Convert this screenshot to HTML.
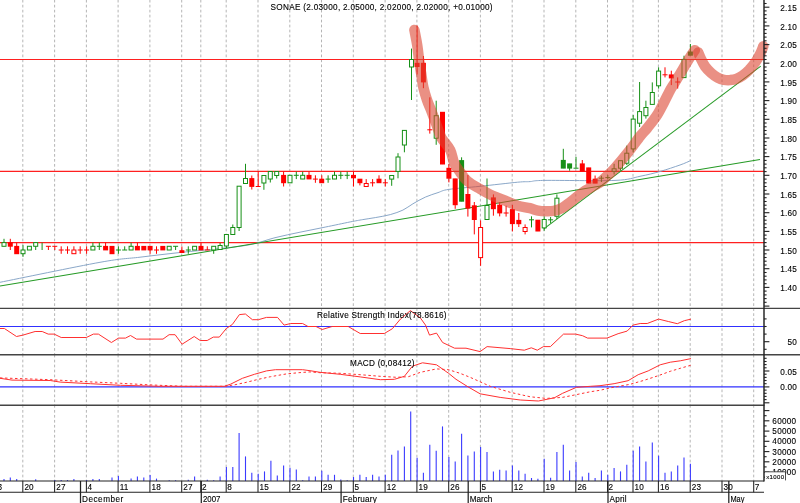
<!DOCTYPE html>
<html><head><meta charset="utf-8"><title>SONAE</title>
<style>html,body{margin:0;padding:0;background:#fff;width:800px;height:503px;overflow:hidden;font-family:"Liberation Sans",sans-serif}</style></head>
<body>
<svg width="800" height="503" viewBox="0 0 800 503" style="display:block;position:absolute;left:0;top:0;filter:blur(0.35px)" font-family="Liberation Sans, sans-serif" font-size="8.2px" fill="#000">
<style>text{stroke:#000;stroke-width:0.12px}</style>
<rect width="800" height="503" fill="#fff"/>
<g stroke="#a8a8a8" stroke-width="0.85" stroke-dasharray="2.7 2.275" fill="none">
<line x1="22.8" y1="-0.2" x2="22.8" y2="308.3"/>
<line x1="22.8" y1="308.3" x2="22.8" y2="354.7"/>
<line x1="22.8" y1="354.7" x2="22.8" y2="405.2"/>
<line x1="22.8" y1="405.0" x2="22.8" y2="481"/>
<line x1="54.6" y1="-0.2" x2="54.6" y2="308.3"/>
<line x1="54.6" y1="308.3" x2="54.6" y2="354.7"/>
<line x1="54.6" y1="354.7" x2="54.6" y2="405.2"/>
<line x1="54.6" y1="405.0" x2="54.6" y2="481"/>
<line x1="86.4" y1="-0.2" x2="86.4" y2="308.3"/>
<line x1="86.4" y1="308.3" x2="86.4" y2="354.7"/>
<line x1="86.4" y1="354.7" x2="86.4" y2="405.2"/>
<line x1="86.4" y1="405.0" x2="86.4" y2="481"/>
<line x1="118.1" y1="-0.2" x2="118.1" y2="308.3"/>
<line x1="118.1" y1="308.3" x2="118.1" y2="354.7"/>
<line x1="118.1" y1="354.7" x2="118.1" y2="405.2"/>
<line x1="118.1" y1="405.0" x2="118.1" y2="481"/>
<line x1="149.9" y1="-0.2" x2="149.9" y2="308.3"/>
<line x1="149.9" y1="308.3" x2="149.9" y2="354.7"/>
<line x1="149.9" y1="354.7" x2="149.9" y2="405.2"/>
<line x1="149.9" y1="405.0" x2="149.9" y2="481"/>
<line x1="181.7" y1="-0.2" x2="181.7" y2="308.3"/>
<line x1="181.7" y1="308.3" x2="181.7" y2="354.7"/>
<line x1="181.7" y1="354.7" x2="181.7" y2="405.2"/>
<line x1="181.7" y1="405.0" x2="181.7" y2="481"/>
<line x1="200.8" y1="-0.2" x2="200.8" y2="308.3"/>
<line x1="200.8" y1="308.3" x2="200.8" y2="354.7"/>
<line x1="200.8" y1="354.7" x2="200.8" y2="405.2"/>
<line x1="200.8" y1="405.0" x2="200.8" y2="481"/>
<line x1="226.2" y1="-0.2" x2="226.2" y2="308.3"/>
<line x1="226.2" y1="308.3" x2="226.2" y2="354.7"/>
<line x1="226.2" y1="354.7" x2="226.2" y2="405.2"/>
<line x1="226.2" y1="405.0" x2="226.2" y2="481"/>
<line x1="258.0" y1="-0.2" x2="258.0" y2="308.3"/>
<line x1="258.0" y1="308.3" x2="258.0" y2="354.7"/>
<line x1="258.0" y1="354.7" x2="258.0" y2="405.2"/>
<line x1="258.0" y1="405.0" x2="258.0" y2="481"/>
<line x1="289.8" y1="-0.2" x2="289.8" y2="308.3"/>
<line x1="289.8" y1="308.3" x2="289.8" y2="354.7"/>
<line x1="289.8" y1="354.7" x2="289.8" y2="405.2"/>
<line x1="289.8" y1="405.0" x2="289.8" y2="481"/>
<line x1="321.5" y1="-0.2" x2="321.5" y2="308.3"/>
<line x1="321.5" y1="308.3" x2="321.5" y2="354.7"/>
<line x1="321.5" y1="354.7" x2="321.5" y2="405.2"/>
<line x1="321.5" y1="405.0" x2="321.5" y2="481"/>
<line x1="353.3" y1="-0.2" x2="353.3" y2="308.3"/>
<line x1="353.3" y1="308.3" x2="353.3" y2="354.7"/>
<line x1="353.3" y1="354.7" x2="353.3" y2="405.2"/>
<line x1="353.3" y1="405.0" x2="353.3" y2="481"/>
<line x1="385.1" y1="-0.2" x2="385.1" y2="308.3"/>
<line x1="385.1" y1="308.3" x2="385.1" y2="354.7"/>
<line x1="385.1" y1="354.7" x2="385.1" y2="405.2"/>
<line x1="385.1" y1="405.0" x2="385.1" y2="481"/>
<line x1="416.9" y1="-0.2" x2="416.9" y2="308.3"/>
<line x1="416.9" y1="308.3" x2="416.9" y2="354.7"/>
<line x1="416.9" y1="354.7" x2="416.9" y2="405.2"/>
<line x1="416.9" y1="405.0" x2="416.9" y2="481"/>
<line x1="448.7" y1="-0.2" x2="448.7" y2="308.3"/>
<line x1="448.7" y1="308.3" x2="448.7" y2="354.7"/>
<line x1="448.7" y1="354.7" x2="448.7" y2="405.2"/>
<line x1="448.7" y1="405.0" x2="448.7" y2="481"/>
<line x1="480.4" y1="-0.2" x2="480.4" y2="308.3"/>
<line x1="480.4" y1="308.3" x2="480.4" y2="354.7"/>
<line x1="480.4" y1="354.7" x2="480.4" y2="405.2"/>
<line x1="480.4" y1="405.0" x2="480.4" y2="481"/>
<line x1="512.2" y1="-0.2" x2="512.2" y2="308.3"/>
<line x1="512.2" y1="308.3" x2="512.2" y2="354.7"/>
<line x1="512.2" y1="354.7" x2="512.2" y2="405.2"/>
<line x1="512.2" y1="405.0" x2="512.2" y2="481"/>
<line x1="544.0" y1="-0.2" x2="544.0" y2="308.3"/>
<line x1="544.0" y1="308.3" x2="544.0" y2="354.7"/>
<line x1="544.0" y1="354.7" x2="544.0" y2="405.2"/>
<line x1="544.0" y1="405.0" x2="544.0" y2="481"/>
<line x1="575.8" y1="-0.2" x2="575.8" y2="308.3"/>
<line x1="575.8" y1="308.3" x2="575.8" y2="354.7"/>
<line x1="575.8" y1="354.7" x2="575.8" y2="405.2"/>
<line x1="575.8" y1="405.0" x2="575.8" y2="481"/>
<line x1="607.5" y1="-0.2" x2="607.5" y2="308.3"/>
<line x1="607.5" y1="308.3" x2="607.5" y2="354.7"/>
<line x1="607.5" y1="354.7" x2="607.5" y2="405.2"/>
<line x1="607.5" y1="405.0" x2="607.5" y2="481"/>
<line x1="633.0" y1="-0.2" x2="633.0" y2="308.3"/>
<line x1="633.0" y1="308.3" x2="633.0" y2="354.7"/>
<line x1="633.0" y1="354.7" x2="633.0" y2="405.2"/>
<line x1="633.0" y1="405.0" x2="633.0" y2="481"/>
<line x1="658.4" y1="-0.2" x2="658.4" y2="308.3"/>
<line x1="658.4" y1="308.3" x2="658.4" y2="354.7"/>
<line x1="658.4" y1="354.7" x2="658.4" y2="405.2"/>
<line x1="658.4" y1="405.0" x2="658.4" y2="481"/>
<line x1="690.2" y1="-0.2" x2="690.2" y2="308.3"/>
<line x1="690.2" y1="308.3" x2="690.2" y2="354.7"/>
<line x1="690.2" y1="354.7" x2="690.2" y2="405.2"/>
<line x1="690.2" y1="405.0" x2="690.2" y2="481"/>
<line x1="722.0" y1="-0.2" x2="722.0" y2="308.3"/>
<line x1="722.0" y1="308.3" x2="722.0" y2="354.7"/>
<line x1="722.0" y1="354.7" x2="722.0" y2="405.2"/>
<line x1="722.0" y1="405.0" x2="722.0" y2="481"/>
<line x1="753.7" y1="-0.2" x2="753.7" y2="308.3"/>
<line x1="753.7" y1="308.3" x2="753.7" y2="354.7"/>
<line x1="753.7" y1="354.7" x2="753.7" y2="405.2"/>
<line x1="753.7" y1="405.0" x2="753.7" y2="481"/>
</g>
<text transform="translate(381.6 10.3) scale(1.0 1)" text-anchor="middle" textLength="222.00" lengthAdjust="spacing">SONAE (2.03000, 2.05000, 2.02000, 2.02000, +0.01000)</text>
<g stroke="#ff2020" stroke-width="1.2">
<line x1="0" y1="59.5" x2="764" y2="59.5"/>
<line x1="0" y1="171.4" x2="764" y2="171.4"/>
<line x1="0" y1="242.7" x2="764" y2="242.7"/>
</g>
<path d="M0.0,282.3C16.7,279.0 76.7,266.5 100.0,262.3C123.3,258.1 126.7,258.8 140.0,257.2C153.3,255.6 166.7,253.9 180.0,252.5C193.3,251.1 208.3,249.8 220.0,248.5C231.7,247.2 240.8,246.5 250.0,244.7C259.2,242.9 266.7,239.8 275.0,237.7C283.3,235.6 291.6,234.0 300.0,232.2C308.4,230.4 316.8,228.8 325.2,227.1C333.6,225.4 343.9,223.2 350.2,221.9C356.5,220.7 358.6,220.3 362.8,219.6C367.0,218.9 370.7,218.4 375.3,217.6C379.9,216.8 385.7,215.8 390.3,214.6C394.9,213.3 399.1,211.9 402.9,210.1C406.7,208.3 409.1,206.0 412.9,203.8C416.6,201.6 421.2,199.0 425.4,197.1C429.6,195.2 434.1,193.9 438.0,192.6C441.9,191.3 441.8,190.4 448.8,189.4C455.8,188.4 468.5,187.5 480.0,186.3C491.5,185.1 509.4,183.0 517.7,182.2C526.0,181.4 525.5,181.9 530.0,181.6C534.5,181.3 530.8,180.6 545.0,180.4C559.2,180.2 599.2,181.1 615.0,180.4C630.8,179.7 632.5,177.8 640.0,176.3C647.5,174.8 653.3,173.4 660.0,171.5C666.7,169.6 674.8,166.8 680.0,165.0C685.2,163.2 689.2,161.2 691.0,160.4" stroke="#84a2c5" stroke-width="0.95" fill="none"/>
<g stroke="#259a25" stroke-width="1.05">
<line x1="0" y1="286.1" x2="760" y2="159.4"/>
<line x1="543.8" y1="228.9" x2="760.8" y2="66.1"/>
</g>
<line x1="4.0" y1="238.8" x2="4.0" y2="246.3" stroke="#168f16" stroke-width="1"/>
<rect x="2.0" y="242.6" width="4" height="3.7" fill="#fff" stroke="#168f16" stroke-width="1"/>
<line x1="10.3" y1="238.8" x2="10.3" y2="250.0" stroke="#ff0000" stroke-width="1"/>
<rect x="7.8" y="242.2" width="5" height="4.5" fill="#ff0000"/>
<line x1="16.7" y1="242.6" x2="16.7" y2="253.8" stroke="#ff0000" stroke-width="1"/>
<rect x="14.2" y="245.9" width="5" height="8.3" fill="#ff0000"/>
<line x1="23.0" y1="245.2" x2="23.0" y2="256.8" stroke="#168f16" stroke-width="1"/>
<rect x="21.0" y="250.0" width="4" height="3.7" fill="#fff" stroke="#168f16" stroke-width="1"/>
<line x1="29.4" y1="246.3" x2="29.4" y2="250.0" stroke="#168f16" stroke-width="1"/>
<rect x="27.4" y="246.3" width="4" height="3.7" fill="#fff" stroke="#168f16" stroke-width="1"/>
<line x1="35.7" y1="242.6" x2="35.7" y2="250.0" stroke="#168f16" stroke-width="1"/>
<rect x="33.7" y="242.6" width="4" height="3.7" fill="#fff" stroke="#168f16" stroke-width="1"/>
<line x1="42.1" y1="242.6" x2="42.1" y2="250.0" stroke="#168f16" stroke-width="1"/>
<line x1="48.4" y1="246.3" x2="48.4" y2="250.0" stroke="#ff0000" stroke-width="1"/>
<line x1="45.9" y1="246.3" x2="50.9" y2="246.3" stroke="#ff0000" stroke-width="1"/>
<line x1="54.8" y1="246.3" x2="54.8" y2="250.0" stroke="#ff0000" stroke-width="1"/>
<line x1="52.3" y1="246.3" x2="57.3" y2="246.3" stroke="#ff0000" stroke-width="1"/>
<line x1="61.2" y1="246.3" x2="61.2" y2="253.8" stroke="#ff0000" stroke-width="1"/>
<line x1="58.7" y1="250.0" x2="63.7" y2="250.0" stroke="#ff0000" stroke-width="1"/>
<line x1="67.5" y1="246.3" x2="67.5" y2="253.8" stroke="#ff0000" stroke-width="1"/>
<line x1="65.0" y1="250.0" x2="70.0" y2="250.0" stroke="#ff0000" stroke-width="1"/>
<line x1="73.9" y1="246.3" x2="73.9" y2="253.8" stroke="#ff0000" stroke-width="1"/>
<rect x="71.9" y="250.0" width="4" height="3.7" fill="#fff" stroke="#ff0000" stroke-width="1"/>
<line x1="80.2" y1="246.3" x2="80.2" y2="253.8" stroke="#ff0000" stroke-width="1"/>
<line x1="77.7" y1="250.0" x2="82.7" y2="250.0" stroke="#ff0000" stroke-width="1"/>
<line x1="86.6" y1="246.3" x2="86.6" y2="253.8" stroke="#ff0000" stroke-width="1"/>
<line x1="84.1" y1="250.0" x2="89.1" y2="250.0" stroke="#ff0000" stroke-width="1"/>
<line x1="92.9" y1="242.6" x2="92.9" y2="250.0" stroke="#168f16" stroke-width="1"/>
<rect x="90.9" y="246.3" width="4" height="3.7" fill="#fff" stroke="#168f16" stroke-width="1"/>
<line x1="99.3" y1="242.6" x2="99.3" y2="250.0" stroke="#168f16" stroke-width="1"/>
<line x1="96.8" y1="246.3" x2="101.8" y2="246.3" stroke="#168f16" stroke-width="1"/>
<line x1="105.6" y1="242.6" x2="105.6" y2="250.0" stroke="#ff0000" stroke-width="1"/>
<rect x="103.1" y="245.9" width="5" height="4.5" fill="#ff0000"/>
<line x1="112.0" y1="246.3" x2="112.0" y2="253.8" stroke="#ff0000" stroke-width="1"/>
<rect x="109.5" y="245.9" width="5" height="8.3" fill="#ff0000"/>
<line x1="118.4" y1="246.3" x2="118.4" y2="253.8" stroke="#168f16" stroke-width="1"/>
<line x1="115.9" y1="250.0" x2="120.9" y2="250.0" stroke="#168f16" stroke-width="1"/>
<line x1="124.7" y1="246.3" x2="124.7" y2="250.0" stroke="#168f16" stroke-width="1"/>
<line x1="122.2" y1="250.0" x2="127.2" y2="250.0" stroke="#168f16" stroke-width="1"/>
<line x1="131.1" y1="242.6" x2="131.1" y2="250.0" stroke="#168f16" stroke-width="1"/>
<rect x="129.1" y="246.3" width="4" height="3.7" fill="#fff" stroke="#168f16" stroke-width="1"/>
<line x1="137.4" y1="242.6" x2="137.4" y2="250.0" stroke="#ff0000" stroke-width="1"/>
<rect x="134.9" y="245.9" width="5" height="4.5" fill="#ff0000"/>
<line x1="143.8" y1="246.3" x2="143.8" y2="250.0" stroke="#ff0000" stroke-width="1"/>
<rect x="141.3" y="245.9" width="5" height="4.5" fill="#ff0000"/>
<line x1="150.1" y1="246.3" x2="150.1" y2="253.8" stroke="#ff0000" stroke-width="1"/>
<rect x="147.6" y="245.9" width="5" height="4.5" fill="#ff0000"/>
<line x1="156.5" y1="246.3" x2="156.5" y2="253.8" stroke="#ff0000" stroke-width="1"/>
<line x1="154.0" y1="250.0" x2="159.0" y2="250.0" stroke="#ff0000" stroke-width="1"/>
<line x1="162.8" y1="246.3" x2="162.8" y2="250.0" stroke="#ff0000" stroke-width="1"/>
<rect x="160.3" y="245.9" width="5" height="4.5" fill="#ff0000"/>
<line x1="169.2" y1="246.3" x2="169.2" y2="250.0" stroke="#168f16" stroke-width="1"/>
<rect x="167.2" y="246.3" width="4" height="3.7" fill="#fff" stroke="#168f16" stroke-width="1"/>
<line x1="175.6" y1="246.3" x2="175.6" y2="250.0" stroke="#168f16" stroke-width="1"/>
<line x1="173.1" y1="246.3" x2="178.1" y2="246.3" stroke="#168f16" stroke-width="1"/>
<line x1="181.9" y1="246.5" x2="181.9" y2="252.6" stroke="#ff0000" stroke-width="1"/>
<rect x="179.4" y="250.2" width="5" height="2.8" fill="#ff0000"/>
<line x1="188.3" y1="246.3" x2="188.3" y2="253.8" stroke="#168f16" stroke-width="1"/>
<line x1="185.8" y1="250.0" x2="190.8" y2="250.0" stroke="#168f16" stroke-width="1"/>
<line x1="194.6" y1="246.3" x2="194.6" y2="250.0" stroke="#168f16" stroke-width="1"/>
<rect x="192.6" y="246.3" width="4" height="3.7" fill="#fff" stroke="#168f16" stroke-width="1"/>
<line x1="201.0" y1="242.6" x2="201.0" y2="250.0" stroke="#ff0000" stroke-width="1"/>
<rect x="198.5" y="245.9" width="5" height="4.5" fill="#ff0000"/>
<line x1="207.3" y1="246.3" x2="207.3" y2="250.0" stroke="#ff0000" stroke-width="1"/>
<line x1="204.8" y1="250.0" x2="209.8" y2="250.0" stroke="#ff0000" stroke-width="1"/>
<line x1="213.7" y1="246.3" x2="213.7" y2="253.8" stroke="#168f16" stroke-width="1"/>
<rect x="211.7" y="246.3" width="4" height="3.7" fill="#fff" stroke="#168f16" stroke-width="1"/>
<line x1="220.1" y1="243.0" x2="220.1" y2="249.5" stroke="#168f16" stroke-width="1"/>
<rect x="218.1" y="245.5" width="4" height="4.0" fill="#fff" stroke="#168f16" stroke-width="1"/>
<line x1="226.4" y1="234.5" x2="226.4" y2="248.0" stroke="#168f16" stroke-width="1"/>
<rect x="224.4" y="234.5" width="4" height="11.5" fill="#fff" stroke="#168f16" stroke-width="1"/>
<line x1="232.8" y1="224.5" x2="232.8" y2="234.5" stroke="#168f16" stroke-width="1"/>
<rect x="230.8" y="227.5" width="4" height="7.0" fill="#fff" stroke="#168f16" stroke-width="1"/>
<line x1="239.1" y1="186.2" x2="239.1" y2="231.0" stroke="#168f16" stroke-width="1"/>
<rect x="237.1" y="186.2" width="4" height="41.3" fill="#fff" stroke="#168f16" stroke-width="1"/>
<line x1="245.5" y1="163.8" x2="245.5" y2="183.5" stroke="#168f16" stroke-width="1"/>
<rect x="243.5" y="178.5" width="4" height="5.0" fill="#fff" stroke="#168f16" stroke-width="1"/>
<line x1="251.8" y1="175.5" x2="251.8" y2="189.5" stroke="#ff0000" stroke-width="1"/>
<rect x="249.3" y="178.1" width="5" height="8.8" fill="#ff0000"/>
<line x1="258.2" y1="171.2" x2="258.2" y2="186.5" stroke="#ff0000" stroke-width="1"/>
<line x1="255.7" y1="186.5" x2="260.7" y2="186.5" stroke="#ff0000" stroke-width="1"/>
<line x1="263.9" y1="175.5" x2="263.9" y2="189.8" stroke="#168f16" stroke-width="1"/>
<rect x="261.9" y="175.5" width="4" height="7.5" fill="#fff" stroke="#168f16" stroke-width="1"/>
<line x1="270.3" y1="171.5" x2="270.3" y2="182.5" stroke="#168f16" stroke-width="1"/>
<rect x="268.3" y="171.5" width="4" height="7.5" fill="#fff" stroke="#168f16" stroke-width="1"/>
<line x1="276.7" y1="171.5" x2="276.7" y2="178.5" stroke="#168f16" stroke-width="1"/>
<rect x="274.7" y="171.5" width="4" height="4.0" fill="#fff" stroke="#168f16" stroke-width="1"/>
<line x1="283.6" y1="171.6" x2="283.6" y2="186.5" stroke="#ff0000" stroke-width="1"/>
<rect x="281.1" y="174.9" width="5" height="8.3" fill="#ff0000"/>
<line x1="290.0" y1="175.3" x2="290.0" y2="182.8" stroke="#168f16" stroke-width="1"/>
<rect x="288.0" y="175.3" width="4" height="7.5" fill="#fff" stroke="#168f16" stroke-width="1"/>
<line x1="296.3" y1="171.6" x2="296.3" y2="179.1" stroke="#168f16" stroke-width="1"/>
<line x1="293.8" y1="175.3" x2="298.8" y2="175.3" stroke="#168f16" stroke-width="1"/>
<line x1="302.7" y1="171.6" x2="302.7" y2="179.1" stroke="#168f16" stroke-width="1"/>
<rect x="300.7" y="175.3" width="4" height="3.7" fill="#fff" stroke="#168f16" stroke-width="1"/>
<line x1="309.0" y1="171.6" x2="309.0" y2="179.1" stroke="#ff0000" stroke-width="1"/>
<rect x="306.5" y="174.9" width="5" height="4.5" fill="#ff0000"/>
<line x1="315.4" y1="175.3" x2="315.4" y2="182.8" stroke="#ff0000" stroke-width="1"/>
<line x1="312.9" y1="179.1" x2="317.9" y2="179.1" stroke="#ff0000" stroke-width="1"/>
<line x1="321.8" y1="175.3" x2="321.8" y2="182.8" stroke="#ff0000" stroke-width="1"/>
<rect x="319.2" y="178.7" width="5" height="4.5" fill="#ff0000"/>
<line x1="328.1" y1="175.3" x2="328.1" y2="182.8" stroke="#168f16" stroke-width="1"/>
<line x1="325.6" y1="179.1" x2="330.6" y2="179.1" stroke="#168f16" stroke-width="1"/>
<line x1="334.5" y1="171.6" x2="334.5" y2="179.1" stroke="#168f16" stroke-width="1"/>
<rect x="332.5" y="175.3" width="4" height="3.7" fill="#fff" stroke="#168f16" stroke-width="1"/>
<line x1="340.8" y1="171.6" x2="340.8" y2="179.1" stroke="#168f16" stroke-width="1"/>
<line x1="338.3" y1="175.3" x2="343.3" y2="175.3" stroke="#168f16" stroke-width="1"/>
<line x1="347.2" y1="171.6" x2="347.2" y2="179.1" stroke="#168f16" stroke-width="1"/>
<line x1="344.7" y1="175.3" x2="349.7" y2="175.3" stroke="#168f16" stroke-width="1"/>
<line x1="353.5" y1="171.6" x2="353.5" y2="186.5" stroke="#ff0000" stroke-width="1"/>
<rect x="351.0" y="174.9" width="5" height="3.4" fill="#ff0000"/>
<line x1="359.9" y1="179.1" x2="359.9" y2="185.4" stroke="#ff0000" stroke-width="1"/>
<rect x="357.4" y="178.7" width="5" height="4.5" fill="#ff0000"/>
<line x1="366.2" y1="179.1" x2="366.2" y2="186.5" stroke="#ff0000" stroke-width="1"/>
<rect x="364.2" y="183.5" width="4" height="3.0" fill="#fff" stroke="#ff0000" stroke-width="1"/>
<line x1="372.6" y1="179.1" x2="372.6" y2="186.5" stroke="#ff0000" stroke-width="1"/>
<line x1="370.1" y1="182.8" x2="375.1" y2="182.8" stroke="#ff0000" stroke-width="1"/>
<line x1="379.0" y1="175.3" x2="379.0" y2="182.8" stroke="#ff0000" stroke-width="1"/>
<rect x="376.5" y="178.7" width="5" height="4.5" fill="#ff0000"/>
<line x1="385.3" y1="179.1" x2="385.3" y2="186.5" stroke="#ff0000" stroke-width="1"/>
<line x1="382.8" y1="182.8" x2="387.8" y2="182.8" stroke="#ff0000" stroke-width="1"/>
<line x1="391.7" y1="175.5" x2="391.7" y2="185.8" stroke="#168f16" stroke-width="1"/>
<rect x="389.7" y="175.5" width="4" height="3.6" fill="#fff" stroke="#168f16" stroke-width="1"/>
<line x1="398.0" y1="153.2" x2="398.0" y2="178.3" stroke="#168f16" stroke-width="1"/>
<rect x="396.0" y="157.0" width="4" height="14.4" fill="#fff" stroke="#168f16" stroke-width="1"/>
<line x1="404.4" y1="130.4" x2="404.4" y2="152.3" stroke="#168f16" stroke-width="1"/>
<rect x="402.4" y="130.4" width="4" height="14.6" fill="#fff" stroke="#168f16" stroke-width="1"/>
<line x1="411.5" y1="48.6" x2="411.5" y2="100.0" stroke="#168f16" stroke-width="1"/>
<rect x="409.5" y="59.5" width="4" height="7.5" fill="#fff" stroke="#168f16" stroke-width="1"/>
<line x1="417.1" y1="25.6" x2="417.1" y2="74.5" stroke="#ff0000" stroke-width="1"/>
<rect x="414.6" y="62.8" width="5" height="4.2" fill="#ff0000"/>
<line x1="423.4" y1="56.0" x2="423.4" y2="88.2" stroke="#ff0000" stroke-width="1"/>
<rect x="420.9" y="62.8" width="5" height="19.6" fill="#ff0000"/>
<line x1="429.8" y1="97.3" x2="429.8" y2="133.6" stroke="#ff0000" stroke-width="1"/>
<line x1="427.3" y1="129.8" x2="432.3" y2="129.8" stroke="#ff0000" stroke-width="1"/>
<line x1="436.2" y1="100.7" x2="436.2" y2="144.8" stroke="#168f16" stroke-width="1"/>
<rect x="434.2" y="115.7" width="4" height="22.5" fill="#fff" stroke="#168f16" stroke-width="1"/>
<line x1="442.5" y1="112.2" x2="442.5" y2="164.1" stroke="#ff0000" stroke-width="1"/>
<rect x="440.0" y="111.8" width="5" height="52.7" fill="#ff0000"/>
<line x1="448.9" y1="164.1" x2="448.9" y2="182.4" stroke="#ff0000" stroke-width="1"/>
<rect x="446.4" y="167.8" width="5" height="10.9" fill="#ff0000"/>
<line x1="455.2" y1="178.8" x2="455.2" y2="208.8" stroke="#ff0000" stroke-width="1"/>
<rect x="452.7" y="178.4" width="5" height="26.8" fill="#ff0000"/>
<line x1="461.6" y1="157.3" x2="461.6" y2="201.3" stroke="#168f16" stroke-width="1"/>
<rect x="459.1" y="160.1" width="5" height="41.6" fill="#168f16"/>
<line x1="467.9" y1="175.0" x2="467.9" y2="216.6" stroke="#ff0000" stroke-width="1"/>
<rect x="465.4" y="194.0" width="5" height="14.6" fill="#ff0000"/>
<line x1="474.3" y1="202.0" x2="474.3" y2="234.4" stroke="#ff0000" stroke-width="1"/>
<rect x="471.8" y="205.3" width="5" height="14.7" fill="#ff0000"/>
<line x1="480.6" y1="220.4" x2="480.6" y2="265.8" stroke="#ff0000" stroke-width="1"/>
<rect x="478.6" y="227.5" width="4" height="30.1" fill="#fff" stroke="#ff0000" stroke-width="1"/>
<line x1="487.0" y1="178.5" x2="487.0" y2="219.5" stroke="#168f16" stroke-width="1"/>
<rect x="485.0" y="205.5" width="4" height="14.0" fill="#fff" stroke="#168f16" stroke-width="1"/>
<line x1="493.4" y1="194.4" x2="493.4" y2="215.7" stroke="#ff0000" stroke-width="1"/>
<rect x="490.9" y="197.4" width="5" height="11.8" fill="#ff0000"/>
<line x1="499.7" y1="202.3" x2="499.7" y2="216.4" stroke="#ff0000" stroke-width="1"/>
<rect x="497.2" y="204.7" width="5" height="8.7" fill="#ff0000"/>
<line x1="506.1" y1="205.7" x2="506.1" y2="216.6" stroke="#ff0000" stroke-width="1"/>
<line x1="503.6" y1="213.0" x2="508.6" y2="213.0" stroke="#ff0000" stroke-width="1"/>
<line x1="512.4" y1="205.0" x2="512.4" y2="231.4" stroke="#ff0000" stroke-width="1"/>
<rect x="509.9" y="209.1" width="5" height="15.0" fill="#ff0000"/>
<line x1="518.8" y1="213.0" x2="518.8" y2="227.0" stroke="#ff0000" stroke-width="1"/>
<rect x="516.3" y="219.9" width="5" height="4.3" fill="#ff0000"/>
<line x1="525.1" y1="224.4" x2="525.1" y2="234.4" stroke="#ff0000" stroke-width="1"/>
<rect x="523.1" y="227.5" width="4" height="4.0" fill="#fff" stroke="#ff0000" stroke-width="1"/>
<line x1="531.5" y1="216.3" x2="531.5" y2="227.4" stroke="#168f16" stroke-width="1"/>
<line x1="529.0" y1="219.8" x2="534.0" y2="219.8" stroke="#168f16" stroke-width="1"/>
<line x1="537.9" y1="220.1" x2="537.9" y2="231.1" stroke="#ff0000" stroke-width="1"/>
<rect x="535.4" y="219.7" width="5" height="11.8" fill="#ff0000"/>
<line x1="544.2" y1="216.3" x2="544.2" y2="230.8" stroke="#168f16" stroke-width="1"/>
<rect x="542.2" y="219.5" width="4" height="8.4" fill="#fff" stroke="#168f16" stroke-width="1"/>
<line x1="550.6" y1="217.0" x2="550.6" y2="223.2" stroke="#168f16" stroke-width="1"/>
<line x1="548.1" y1="219.8" x2="553.1" y2="219.8" stroke="#168f16" stroke-width="1"/>
<line x1="556.9" y1="194.4" x2="556.9" y2="219.0" stroke="#168f16" stroke-width="1"/>
<rect x="554.9" y="198.2" width="4" height="18.1" fill="#fff" stroke="#168f16" stroke-width="1"/>
<line x1="563.3" y1="148.8" x2="563.3" y2="168.2" stroke="#168f16" stroke-width="1"/>
<rect x="560.8" y="159.9" width="5" height="8.7" fill="#168f16"/>
<line x1="569.6" y1="163.8" x2="569.6" y2="170.7" stroke="#168f16" stroke-width="1"/>
<rect x="567.1" y="163.4" width="5" height="5.2" fill="#168f16"/>
<line x1="576.0" y1="156.9" x2="576.0" y2="168.2" stroke="#168f16" stroke-width="1"/>
<line x1="573.5" y1="168.2" x2="578.5" y2="168.2" stroke="#168f16" stroke-width="1"/>
<line x1="582.3" y1="160.0" x2="582.3" y2="171.3" stroke="#ff0000" stroke-width="1"/>
<rect x="579.8" y="163.4" width="5" height="8.3" fill="#ff0000"/>
<line x1="588.7" y1="167.8" x2="588.7" y2="183.2" stroke="#ff0000" stroke-width="1"/>
<rect x="586.2" y="167.4" width="5" height="16.2" fill="#ff0000"/>
<line x1="595.1" y1="175.5" x2="595.1" y2="183.2" stroke="#ff0000" stroke-width="1"/>
<rect x="592.6" y="178.7" width="5" height="4.9" fill="#ff0000"/>
<line x1="601.4" y1="175.7" x2="601.4" y2="182.0" stroke="#168f16" stroke-width="1"/>
<line x1="598.9" y1="178.2" x2="603.9" y2="178.2" stroke="#168f16" stroke-width="1"/>
<line x1="607.8" y1="175.0" x2="607.8" y2="179.0" stroke="#168f16" stroke-width="1"/>
<line x1="605.3" y1="177.6" x2="610.3" y2="177.6" stroke="#168f16" stroke-width="1"/>
<line x1="614.1" y1="163.8" x2="614.1" y2="174.5" stroke="#168f16" stroke-width="1"/>
<rect x="612.1" y="168.8" width="4" height="2.5" fill="#fff" stroke="#168f16" stroke-width="1"/>
<line x1="620.5" y1="160.7" x2="620.5" y2="170.7" stroke="#168f16" stroke-width="1"/>
<rect x="618.5" y="160.7" width="4" height="7.5" fill="#fff" stroke="#168f16" stroke-width="1"/>
<line x1="626.8" y1="145.6" x2="626.8" y2="165.0" stroke="#168f16" stroke-width="1"/>
<rect x="624.8" y="153.2" width="4" height="10.0" fill="#fff" stroke="#168f16" stroke-width="1"/>
<line x1="633.2" y1="115.0" x2="633.2" y2="152.5" stroke="#168f16" stroke-width="1"/>
<rect x="631.2" y="119.1" width="4" height="29.8" fill="#fff" stroke="#168f16" stroke-width="1"/>
<line x1="639.6" y1="82.0" x2="639.6" y2="127.0" stroke="#168f16" stroke-width="1"/>
<rect x="637.6" y="111.6" width="4" height="11.6" fill="#fff" stroke="#168f16" stroke-width="1"/>
<line x1="645.9" y1="100.7" x2="645.9" y2="118.6" stroke="#168f16" stroke-width="1"/>
<rect x="643.9" y="107.5" width="4" height="8.2" fill="#fff" stroke="#168f16" stroke-width="1"/>
<line x1="652.3" y1="82.4" x2="652.3" y2="104.4" stroke="#168f16" stroke-width="1"/>
<rect x="650.3" y="92.5" width="4" height="11.9" fill="#fff" stroke="#168f16" stroke-width="1"/>
<line x1="658.6" y1="67.3" x2="658.6" y2="88.6" stroke="#168f16" stroke-width="1"/>
<rect x="656.6" y="71.1" width="4" height="14.7" fill="#fff" stroke="#168f16" stroke-width="1"/>
<line x1="665.0" y1="67.3" x2="665.0" y2="77.4" stroke="#ff0000" stroke-width="1"/>
<line x1="662.5" y1="74.8" x2="667.5" y2="74.8" stroke="#ff0000" stroke-width="1"/>
<line x1="671.3" y1="70.7" x2="671.3" y2="85.1" stroke="#ff0000" stroke-width="1"/>
<rect x="668.8" y="74.4" width="5" height="4.0" fill="#ff0000"/>
<line x1="677.7" y1="77.4" x2="677.7" y2="88.6" stroke="#ff0000" stroke-width="1"/>
<line x1="675.2" y1="82.0" x2="680.2" y2="82.0" stroke="#ff0000" stroke-width="1"/>
<line x1="684.0" y1="55.7" x2="684.0" y2="77.6" stroke="#168f16" stroke-width="1"/>
<rect x="682.0" y="59.4" width="4" height="18.2" fill="#fff" stroke="#168f16" stroke-width="1"/>
<line x1="690.4" y1="44.0" x2="690.4" y2="55.3" stroke="#168f16" stroke-width="1"/>
<rect x="687.9" y="51.5" width="5" height="4.2" fill="#168f16"/>
<path d="M414.4,30.0C414.9,32.5 416.4,40.1 417.2,45.0C418.0,49.9 418.3,54.3 419.0,59.5C419.7,64.7 420.9,71.7 421.6,76.4C422.3,81.1 422.5,83.6 423.4,87.5C424.3,91.4 425.6,95.8 427.0,100.0C428.4,104.2 430.4,108.4 432.0,112.6C433.6,116.8 435.0,120.8 436.6,125.0C438.2,129.2 439.1,133.5 441.4,137.7C443.7,141.9 448.1,145.8 450.2,150.0C452.3,154.2 452.4,158.9 454.0,162.6C455.6,166.3 457.7,168.9 460.0,172.0C462.3,175.1 464.2,178.5 467.6,181.3C471.0,184.1 475.9,186.6 480.1,189.0C484.3,191.4 488.5,193.8 492.7,195.7C496.9,197.6 501.0,199.0 505.2,200.7C509.4,202.4 513.6,204.4 517.7,205.7C521.8,206.9 526.6,207.4 530.0,208.2C533.4,209.0 535.4,210.2 538.0,210.7C540.6,211.2 543.3,211.3 545.9,211.3C548.5,211.3 551.1,211.4 553.8,210.9C556.4,210.4 559.1,209.6 561.8,208.2C564.4,206.8 567.1,204.6 569.7,202.6C572.4,200.6 575.1,198.2 577.7,196.2C580.4,194.2 583.0,192.2 585.6,190.5C588.2,188.8 591.1,187.4 593.6,186.0C596.1,184.6 598.1,183.8 600.5,182.0C602.9,180.2 605.5,177.4 608.0,175.0C610.5,172.6 611.9,171.6 615.3,167.7C618.7,163.8 624.3,157.1 628.5,151.8C632.7,146.5 637.2,139.9 640.4,135.9C643.6,131.9 644.8,131.1 647.6,127.6C650.4,124.1 654.3,119.3 657.0,115.1C659.7,110.9 661.7,106.7 663.9,102.5C666.1,98.3 668.6,92.9 670.2,90.0C671.8,87.1 671.5,88.0 673.3,85.1C675.1,82.2 678.3,76.8 680.8,72.6C683.3,68.4 686.0,63.7 688.3,60.0C690.6,56.3 693.7,51.8 694.8,50.2" stroke="#dc4632" stroke-opacity="0.6" stroke-width="10.5" stroke-linecap="round" stroke-linejoin="round" fill="none"/>
<path d="M698.2,52.5C698.7,53.6 699.9,56.7 701.0,59.0C702.1,61.3 703.3,64.0 705.0,66.4C706.7,68.8 709.2,71.3 711.3,73.2C713.4,75.1 715.5,76.5 717.6,77.6C719.7,78.7 721.8,79.4 723.9,79.8C726.0,80.2 728.0,80.2 730.1,80.1C732.2,79.9 734.3,79.7 736.4,78.9C738.5,78.1 740.6,77.0 742.7,75.5C744.8,74.0 746.8,72.2 748.9,70.1C751.0,67.9 753.3,65.3 755.2,62.6C757.1,59.9 758.9,56.5 760.2,53.8C761.6,51.1 762.8,47.5 763.3,46.3" stroke="#dc4632" stroke-opacity="0.6" stroke-width="10.5" stroke-linecap="round" stroke-linejoin="round" fill="none"/>
<g stroke="#444" stroke-width="1.35">
<line x1="0" y1="308.3" x2="800" y2="308.3"/>
<line x1="0" y1="354.7" x2="800" y2="354.7"/>
<line x1="0" y1="405.2" x2="764.5" y2="405.2"/>
</g>
<g stroke="#3030ff" stroke-width="1.2">
<line x1="0" y1="326.5" x2="764" y2="326.5"/>
<line x1="0" y1="386.9" x2="764" y2="386.9"/>
</g>
<polyline points="0.0,328.5 4.4,328.5 16.5,336.5 23.0,335.1 35.1,331.5 42.2,331.5 48.2,334.1 54.2,334.1 61.2,337.5 86.3,337.5 93.4,334.1 98.4,334.1 111.4,342.5 118.5,338.1 125.5,338.1 130.5,335.5 136.5,339.1 163.0,339.1 169.1,334.7 175.1,334.7 182.1,344.2 194.2,336.5 200.2,340.5 207.2,340.5 213.3,337.1 219.3,337.1 226.3,328.5 232.3,324.5 239.4,314.6 245.4,314.0 252.4,319.7 258.4,319.7 266.5,317.4 277.5,317.4 284.1,325.1 290.6,323.5 302.6,323.5 308.0,326.5 316.0,326.5 322.1,329.5 332.1,326.5 348.2,326.5 360.2,333.5 384.3,333.5 392.4,328.7 400.4,319.1 410.4,310.6 420.5,318.1 425.5,325.1 429.5,335.1 436.5,333.1 442.6,342.5 454.6,348.2 466.0,348.2 480.1,351.6 487.1,346.6 510.2,348.6 524.3,350.2 531.3,347.8 537.3,350.2 543.4,346.6 550.4,346.6 563.5,334.1 575.5,334.1 582.5,335.7 587.6,338.1 607.0,338.1 618.1,333.7 627.1,331.1 633.1,325.1 640.2,323.5 647.2,323.5 658.6,319.1 668.3,321.5 677.3,323.7 684.3,320.7 691.0,319.1" stroke="#ff3030" stroke-width="1" fill="none"/>
<polyline points="0.0,378.3 12.0,380.1 50.2,380.5 60.2,382.1 90.4,383.7 120.5,385.3 160.0,386.3 224.3,386.3 230.3,384.3 242.4,378.3 254.4,374.3 266.5,370.9 275.5,369.7 302.6,369.7 310.0,370.7 320.0,372.3 340.2,374.3 360.2,376.9 380.3,379.7 394.4,379.3 404.4,376.3 412.4,366.2 422.5,362.8 436.5,364.8 448.6,373.3 456.0,379.3 468.1,386.9 480.1,393.8 500.2,397.4 520.3,400.0 538.4,401.0 554.4,397.8 562.4,393.4 576.5,387.3 590.6,386.3 600.0,385.7 614.1,383.7 628.1,380.7 638.2,374.7 648.2,370.9 660.2,364.8 670.3,362.2 680.3,360.8 691.0,358.6" stroke="#ff3030" stroke-width="1" fill="none"/>
<polyline points="0.0,377.9 50.2,379.7 90.4,381.9 120.5,383.3 150.0,384.9 184.0,386.3 224.3,386.3 234.3,384.9 246.4,382.3 258.4,379.3 270.5,376.7 286.5,373.9 298.6,372.7 310.0,371.9 320.0,372.7 340.2,373.3 360.2,374.7 380.3,376.3 396.4,377.3 408.4,376.7 420.5,372.3 436.5,368.9 448.6,369.7 460.0,373.3 470.1,377.3 490.2,386.3 510.2,392.3 530.3,396.8 546.4,398.4 562.4,397.4 574.5,395.0 590.6,391.7 600.0,390.3 610.0,387.9 630.1,384.3 644.2,380.3 658.2,375.7 670.3,371.3 680.3,368.3 691.0,365.2" stroke="#ff3030" stroke-width="1" stroke-dasharray="2.5 2.5" fill="none"/>
<text transform="translate(381.8 318.0) scale(1.0 1)" text-anchor="middle" textLength="129.60" lengthAdjust="spacing">Relative Strength Index(78.8616)</text>
<text transform="translate(382.3 366.2) scale(1.0 1)" text-anchor="middle" textLength="64.40" lengthAdjust="spacing">MACD (0,08412)</text>
<g stroke="#3a3aff" stroke-width="1.1">
<line x1="4.0" y1="481" x2="4.0" y2="479.0"/>
<line x1="10.3" y1="481" x2="10.3" y2="477.4"/>
<line x1="16.7" y1="481" x2="16.7" y2="479.0"/>
<line x1="35.7" y1="481" x2="35.7" y2="479.2"/>
<line x1="54.8" y1="481" x2="54.8" y2="480.0"/>
<line x1="61.2" y1="481" x2="61.2" y2="480.0"/>
<line x1="67.5" y1="481" x2="67.5" y2="480.0"/>
<line x1="73.9" y1="481" x2="73.9" y2="479.0"/>
<line x1="86.6" y1="481" x2="86.6" y2="480.0"/>
<line x1="92.9" y1="481" x2="92.9" y2="479.0"/>
<line x1="99.3" y1="481" x2="99.3" y2="479.0"/>
<line x1="112.0" y1="481" x2="112.0" y2="477.4"/>
<line x1="118.4" y1="481" x2="118.4" y2="476.0"/>
<line x1="131.1" y1="481" x2="131.1" y2="478.4"/>
<line x1="137.4" y1="481" x2="137.4" y2="476.4"/>
<line x1="143.8" y1="481" x2="143.8" y2="477.4"/>
<line x1="150.1" y1="481" x2="150.1" y2="475.0"/>
<line x1="156.5" y1="481" x2="156.5" y2="478.6"/>
<line x1="169.2" y1="481" x2="169.2" y2="480.2"/>
<line x1="175.6" y1="481" x2="175.6" y2="480.2"/>
<line x1="188.3" y1="481" x2="188.3" y2="479.8"/>
<line x1="194.6" y1="481" x2="194.6" y2="476.4"/>
<line x1="207.3" y1="481" x2="207.3" y2="479.8"/>
<line x1="213.7" y1="481" x2="213.7" y2="480.2"/>
<line x1="220.1" y1="481" x2="220.1" y2="476.4"/>
<line x1="226.4" y1="481" x2="226.4" y2="467.0"/>
<line x1="232.8" y1="481" x2="232.8" y2="467.0"/>
<line x1="239.1" y1="481" x2="239.1" y2="433.0"/>
<line x1="245.5" y1="481" x2="245.5" y2="456.4"/>
<line x1="251.8" y1="481" x2="251.8" y2="472.8"/>
<line x1="258.2" y1="481" x2="258.2" y2="473.8"/>
<line x1="264.5" y1="481" x2="264.5" y2="471.4"/>
<line x1="270.9" y1="481" x2="270.9" y2="460.8"/>
<line x1="277.3" y1="481" x2="277.3" y2="475.4"/>
<line x1="283.6" y1="481" x2="283.6" y2="465.4"/>
<line x1="290.0" y1="481" x2="290.0" y2="467.8"/>
<line x1="296.3" y1="481" x2="296.3" y2="469.4"/>
<line x1="302.7" y1="481" x2="302.7" y2="480.2"/>
<line x1="309.0" y1="481" x2="309.0" y2="476.4"/>
<line x1="315.4" y1="481" x2="315.4" y2="476.4"/>
<line x1="321.8" y1="481" x2="321.8" y2="470.8"/>
<line x1="328.1" y1="481" x2="328.1" y2="474.8"/>
<line x1="334.5" y1="481" x2="334.5" y2="474.8"/>
<line x1="340.8" y1="481" x2="340.8" y2="479.4"/>
<line x1="347.2" y1="481" x2="347.2" y2="480.2"/>
<line x1="353.5" y1="481" x2="353.5" y2="477.0"/>
<line x1="359.9" y1="481" x2="359.9" y2="474.8"/>
<line x1="366.2" y1="481" x2="366.2" y2="477.0"/>
<line x1="372.6" y1="481" x2="372.6" y2="474.8"/>
<line x1="379.0" y1="481" x2="379.0" y2="476.4"/>
<line x1="385.3" y1="481" x2="385.3" y2="474.8"/>
<line x1="391.7" y1="481" x2="391.7" y2="454.8"/>
<line x1="398.0" y1="481" x2="398.0" y2="450.4"/>
<line x1="404.4" y1="481" x2="404.4" y2="446.4"/>
<line x1="410.7" y1="481" x2="410.7" y2="411.4"/>
<line x1="417.1" y1="481" x2="417.1" y2="457.8"/>
<line x1="423.4" y1="481" x2="423.4" y2="472.8"/>
<line x1="429.8" y1="481" x2="429.8" y2="444.8"/>
<line x1="436.2" y1="481" x2="436.2" y2="450.8"/>
<line x1="442.5" y1="481" x2="442.5" y2="426.4"/>
<line x1="448.9" y1="481" x2="448.9" y2="457.0"/>
<line x1="455.2" y1="481" x2="455.2" y2="461.4"/>
<line x1="461.6" y1="481" x2="461.6" y2="433.8"/>
<line x1="467.9" y1="481" x2="467.9" y2="455.4"/>
<line x1="474.3" y1="481" x2="474.3" y2="451.4"/>
<line x1="480.6" y1="481" x2="480.6" y2="447.0"/>
<line x1="487.0" y1="481" x2="487.0" y2="452.0"/>
<line x1="493.4" y1="481" x2="493.4" y2="471.4"/>
<line x1="499.7" y1="481" x2="499.7" y2="469.8"/>
<line x1="506.1" y1="481" x2="506.1" y2="470.4"/>
<line x1="512.4" y1="481" x2="512.4" y2="465.4"/>
<line x1="518.8" y1="481" x2="518.8" y2="470.4"/>
<line x1="525.1" y1="481" x2="525.1" y2="473.8"/>
<line x1="531.5" y1="481" x2="531.5" y2="478.0"/>
<line x1="537.9" y1="481" x2="537.9" y2="478.8"/>
<line x1="544.2" y1="481" x2="544.2" y2="458.8"/>
<line x1="550.6" y1="481" x2="550.6" y2="477.8"/>
<line x1="556.9" y1="481" x2="556.9" y2="452.0"/>
<line x1="563.3" y1="481" x2="563.3" y2="444.8"/>
<line x1="569.6" y1="481" x2="569.6" y2="470.4"/>
<line x1="576.0" y1="481" x2="576.0" y2="462.0"/>
<line x1="582.3" y1="481" x2="582.3" y2="476.4"/>
<line x1="588.7" y1="481" x2="588.7" y2="472.8"/>
<line x1="595.1" y1="481" x2="595.1" y2="478.0"/>
<line x1="601.4" y1="481" x2="601.4" y2="470.4"/>
<line x1="607.8" y1="481" x2="607.8" y2="474.8"/>
<line x1="614.1" y1="481" x2="614.1" y2="468.0"/>
<line x1="620.5" y1="481" x2="620.5" y2="471.4"/>
<line x1="626.8" y1="481" x2="626.8" y2="464.8"/>
<line x1="633.2" y1="481" x2="633.2" y2="450.8"/>
<line x1="639.6" y1="481" x2="639.6" y2="446.4"/>
<line x1="645.9" y1="481" x2="645.9" y2="461.4"/>
<line x1="652.3" y1="481" x2="652.3" y2="442.4"/>
<line x1="658.6" y1="481" x2="658.6" y2="455.8"/>
<line x1="665.0" y1="481" x2="665.0" y2="472.8"/>
<line x1="671.3" y1="481" x2="671.3" y2="471.4"/>
<line x1="677.7" y1="481" x2="677.7" y2="465.4"/>
<line x1="684.0" y1="481" x2="684.0" y2="457.4"/>
<line x1="690.4" y1="481" x2="690.4" y2="463.8"/>
</g>
<g stroke="#222" stroke-width="1.05">
<line x1="0" y1="481" x2="764" y2="481"/>
<line x1="0" y1="492.3" x2="764" y2="492.3"/>
<line x1="22.8" y1="481" x2="22.8" y2="492.3"/>
<line x1="54.6" y1="481" x2="54.6" y2="492.3"/>
<line x1="86.4" y1="481" x2="86.4" y2="492.3"/>
<line x1="118.1" y1="481" x2="118.1" y2="492.3"/>
<line x1="149.9" y1="481" x2="149.9" y2="492.3"/>
<line x1="181.7" y1="481" x2="181.7" y2="492.3"/>
<line x1="200.8" y1="481" x2="200.8" y2="492.3"/>
<line x1="226.2" y1="481" x2="226.2" y2="492.3"/>
<line x1="258.0" y1="481" x2="258.0" y2="492.3"/>
<line x1="289.8" y1="481" x2="289.8" y2="492.3"/>
<line x1="321.5" y1="481" x2="321.5" y2="492.3"/>
<line x1="353.3" y1="481" x2="353.3" y2="492.3"/>
<line x1="385.1" y1="481" x2="385.1" y2="492.3"/>
<line x1="416.9" y1="481" x2="416.9" y2="492.3"/>
<line x1="448.7" y1="481" x2="448.7" y2="492.3"/>
<line x1="480.4" y1="481" x2="480.4" y2="492.3"/>
<line x1="512.2" y1="481" x2="512.2" y2="492.3"/>
<line x1="544.0" y1="481" x2="544.0" y2="492.3"/>
<line x1="575.8" y1="481" x2="575.8" y2="492.3"/>
<line x1="607.5" y1="481" x2="607.5" y2="492.3"/>
<line x1="633.0" y1="481" x2="633.0" y2="492.3"/>
<line x1="658.4" y1="481" x2="658.4" y2="492.3"/>
<line x1="690.2" y1="481" x2="690.2" y2="492.3"/>
<line x1="722.0" y1="481" x2="722.0" y2="492.3"/>
<line x1="753.7" y1="481" x2="753.7" y2="492.3"/>
<line x1="80.5" y1="481" x2="80.5" y2="503" stroke-width="1.25"/>
<line x1="201.3" y1="481" x2="201.3" y2="503" stroke-width="1.25"/>
<line x1="341.1" y1="481" x2="341.1" y2="503" stroke-width="1.25"/>
<line x1="468.2" y1="481" x2="468.2" y2="503" stroke-width="1.25"/>
<line x1="608.0" y1="481" x2="608.0" y2="503" stroke-width="1.25"/>
<line x1="728.8" y1="481" x2="728.8" y2="503" stroke-width="1.25"/>
</g>
<text transform="translate(24.4 490.3) scale(1.0 1)" letter-spacing="0.15">20</text>
<text transform="translate(56.2 490.3) scale(1.0 1)" letter-spacing="0.15">27</text>
<text transform="translate(87.5 490.3) scale(1.0 1)" letter-spacing="0.15">4</text>
<text transform="translate(119.7 490.3) scale(1.0 1)" letter-spacing="0.15">11</text>
<text transform="translate(151.5 490.3) scale(1.0 1)" letter-spacing="0.15">18</text>
<text transform="translate(183.3 490.3) scale(1.0 1)" letter-spacing="0.15">27</text>
<text transform="translate(201.9 490.3) scale(1.0 1)" letter-spacing="0.15">2</text>
<text transform="translate(227.3 490.3) scale(1.0 1)" letter-spacing="0.15">8</text>
<text transform="translate(259.6 490.3) scale(1.0 1)" letter-spacing="0.15">15</text>
<text transform="translate(291.4 490.3) scale(1.0 1)" letter-spacing="0.15">22</text>
<text transform="translate(323.1 490.3) scale(1.0 1)" letter-spacing="0.15">29</text>
<text transform="translate(354.4 490.3) scale(1.0 1)" letter-spacing="0.15">5</text>
<text transform="translate(386.7 490.3) scale(1.0 1)" letter-spacing="0.15">12</text>
<text transform="translate(418.5 490.3) scale(1.0 1)" letter-spacing="0.15">19</text>
<text transform="translate(450.3 490.3) scale(1.0 1)" letter-spacing="0.15">26</text>
<text transform="translate(481.5 490.3) scale(1.0 1)" letter-spacing="0.15">5</text>
<text transform="translate(513.8 490.3) scale(1.0 1)" letter-spacing="0.15">12</text>
<text transform="translate(545.6 490.3) scale(1.0 1)" letter-spacing="0.15">19</text>
<text transform="translate(577.4 490.3) scale(1.0 1)" letter-spacing="0.15">26</text>
<text transform="translate(608.6 490.3) scale(1.0 1)" letter-spacing="0.15">2</text>
<text transform="translate(634.6 490.3) scale(1.0 1)" letter-spacing="0.15">10</text>
<text transform="translate(660.0 490.3) scale(1.0 1)" letter-spacing="0.15">16</text>
<text transform="translate(691.8 490.3) scale(1.0 1)" letter-spacing="0.15">23</text>
<text transform="translate(723.6 490.3) scale(1.0 1)" letter-spacing="0.15">30</text>
<text transform="translate(754.8 490.3) scale(1.0 1)" letter-spacing="0.15">7</text>
<text transform="translate(-2.4 490.0) scale(1.0 1)">3</text>
<text transform="translate(82.1 501.5) scale(1.0 1)" textLength="41.20" lengthAdjust="spacing">December</text>
<text transform="translate(202.9 501.5) scale(1.0 1)" textLength="17.50" lengthAdjust="spacingAndGlyphs">2007</text>
<text transform="translate(342.7 501.5) scale(1.0 1)" textLength="34.20" lengthAdjust="spacing">February</text>
<text transform="translate(469.8 501.5) scale(1.0 1)" textLength="22.50" lengthAdjust="spacingAndGlyphs">March</text>
<text transform="translate(609.6 501.5) scale(1.0 1)" textLength="17.00" lengthAdjust="spacing">April</text>
<text transform="translate(730.4 501.5) scale(1.0 1)" textLength="14.00" lengthAdjust="spacingAndGlyphs">May</text>
<line x1="764" y1="0" x2="764" y2="481.5" stroke="#222" stroke-width="1.45"/>
<g stroke="#222" stroke-width="1.1">
<line x1="764" y1="3.5" x2="766.6" y2="3.5"/>
<line x1="764" y1="7.2" x2="769.4" y2="7.2"/>
<line x1="764" y1="10.9" x2="766.6" y2="10.9"/>
<line x1="764" y1="14.7" x2="766.6" y2="14.7"/>
<line x1="764" y1="18.4" x2="766.6" y2="18.4"/>
<line x1="764" y1="22.1" x2="766.6" y2="22.1"/>
<line x1="764" y1="25.9" x2="769.4" y2="25.9"/>
<line x1="764" y1="29.6" x2="766.6" y2="29.6"/>
<line x1="764" y1="33.4" x2="766.6" y2="33.4"/>
<line x1="764" y1="37.1" x2="766.6" y2="37.1"/>
<line x1="764" y1="40.8" x2="766.6" y2="40.8"/>
<line x1="764" y1="44.6" x2="769.4" y2="44.6"/>
<line x1="764" y1="48.3" x2="766.6" y2="48.3"/>
<line x1="764" y1="52.0" x2="766.6" y2="52.0"/>
<line x1="764" y1="55.8" x2="766.6" y2="55.8"/>
<line x1="764" y1="59.5" x2="766.6" y2="59.5"/>
<line x1="764" y1="63.2" x2="769.4" y2="63.2"/>
<line x1="764" y1="67.0" x2="766.6" y2="67.0"/>
<line x1="764" y1="70.7" x2="766.6" y2="70.7"/>
<line x1="764" y1="74.4" x2="766.6" y2="74.4"/>
<line x1="764" y1="78.2" x2="766.6" y2="78.2"/>
<line x1="764" y1="81.9" x2="769.4" y2="81.9"/>
<line x1="764" y1="85.7" x2="766.6" y2="85.7"/>
<line x1="764" y1="89.4" x2="766.6" y2="89.4"/>
<line x1="764" y1="93.1" x2="766.6" y2="93.1"/>
<line x1="764" y1="96.9" x2="766.6" y2="96.9"/>
<line x1="764" y1="100.6" x2="769.4" y2="100.6"/>
<line x1="764" y1="104.3" x2="766.6" y2="104.3"/>
<line x1="764" y1="108.1" x2="766.6" y2="108.1"/>
<line x1="764" y1="111.8" x2="766.6" y2="111.8"/>
<line x1="764" y1="115.5" x2="766.6" y2="115.5"/>
<line x1="764" y1="119.3" x2="769.4" y2="119.3"/>
<line x1="764" y1="123.0" x2="766.6" y2="123.0"/>
<line x1="764" y1="126.8" x2="766.6" y2="126.8"/>
<line x1="764" y1="130.5" x2="766.6" y2="130.5"/>
<line x1="764" y1="134.2" x2="766.6" y2="134.2"/>
<line x1="764" y1="138.0" x2="769.4" y2="138.0"/>
<line x1="764" y1="141.7" x2="766.6" y2="141.7"/>
<line x1="764" y1="145.4" x2="766.6" y2="145.4"/>
<line x1="764" y1="149.2" x2="766.6" y2="149.2"/>
<line x1="764" y1="152.9" x2="766.6" y2="152.9"/>
<line x1="764" y1="156.6" x2="769.4" y2="156.6"/>
<line x1="764" y1="160.4" x2="766.6" y2="160.4"/>
<line x1="764" y1="164.1" x2="766.6" y2="164.1"/>
<line x1="764" y1="167.8" x2="766.6" y2="167.8"/>
<line x1="764" y1="171.6" x2="766.6" y2="171.6"/>
<line x1="764" y1="175.3" x2="769.4" y2="175.3"/>
<line x1="764" y1="179.1" x2="766.6" y2="179.1"/>
<line x1="764" y1="182.8" x2="766.6" y2="182.8"/>
<line x1="764" y1="186.5" x2="766.6" y2="186.5"/>
<line x1="764" y1="190.3" x2="766.6" y2="190.3"/>
<line x1="764" y1="194.0" x2="769.4" y2="194.0"/>
<line x1="764" y1="197.7" x2="766.6" y2="197.7"/>
<line x1="764" y1="201.5" x2="766.6" y2="201.5"/>
<line x1="764" y1="205.2" x2="766.6" y2="205.2"/>
<line x1="764" y1="208.9" x2="766.6" y2="208.9"/>
<line x1="764" y1="212.7" x2="769.4" y2="212.7"/>
<line x1="764" y1="216.4" x2="766.6" y2="216.4"/>
<line x1="764" y1="220.2" x2="766.6" y2="220.2"/>
<line x1="764" y1="223.9" x2="766.6" y2="223.9"/>
<line x1="764" y1="227.6" x2="766.6" y2="227.6"/>
<line x1="764" y1="231.4" x2="769.4" y2="231.4"/>
<line x1="764" y1="235.1" x2="766.6" y2="235.1"/>
<line x1="764" y1="238.8" x2="766.6" y2="238.8"/>
<line x1="764" y1="242.6" x2="766.6" y2="242.6"/>
<line x1="764" y1="246.3" x2="766.6" y2="246.3"/>
<line x1="764" y1="250.0" x2="769.4" y2="250.0"/>
<line x1="764" y1="253.8" x2="766.6" y2="253.8"/>
<line x1="764" y1="257.5" x2="766.6" y2="257.5"/>
<line x1="764" y1="261.2" x2="766.6" y2="261.2"/>
<line x1="764" y1="265.0" x2="766.6" y2="265.0"/>
<line x1="764" y1="268.7" x2="769.4" y2="268.7"/>
<line x1="764" y1="272.5" x2="766.6" y2="272.5"/>
<line x1="764" y1="276.2" x2="766.6" y2="276.2"/>
<line x1="764" y1="279.9" x2="766.6" y2="279.9"/>
<line x1="764" y1="283.7" x2="766.6" y2="283.7"/>
<line x1="764" y1="287.4" x2="769.4" y2="287.4"/>
<line x1="764" y1="291.1" x2="766.6" y2="291.1"/>
<line x1="764" y1="294.9" x2="766.6" y2="294.9"/>
<line x1="764" y1="298.6" x2="766.6" y2="298.6"/>
<line x1="764" y1="302.3" x2="766.6" y2="302.3"/>
<line x1="764" y1="306.1" x2="769.4" y2="306.1"/>
<line x1="764" y1="318.9" x2="766.6" y2="318.9"/>
<line x1="764" y1="326.5" x2="766.6" y2="326.5"/>
<line x1="764" y1="334.1" x2="766.6" y2="334.1"/>
<line x1="764" y1="341.7" x2="769.4" y2="341.7"/>
<line x1="764" y1="349.3" x2="766.6" y2="349.3"/>
<line x1="764" y1="402.8" x2="769.4" y2="402.8"/>
<line x1="764" y1="399.6" x2="766.6" y2="399.6"/>
<line x1="764" y1="396.4" x2="766.6" y2="396.4"/>
<line x1="764" y1="393.3" x2="766.6" y2="393.3"/>
<line x1="764" y1="390.1" x2="766.6" y2="390.1"/>
<line x1="764" y1="386.9" x2="769.4" y2="386.9"/>
<line x1="764" y1="383.7" x2="766.6" y2="383.7"/>
<line x1="764" y1="380.5" x2="766.6" y2="380.5"/>
<line x1="764" y1="377.4" x2="766.6" y2="377.4"/>
<line x1="764" y1="374.2" x2="766.6" y2="374.2"/>
<line x1="764" y1="371.0" x2="769.4" y2="371.0"/>
<line x1="764" y1="367.8" x2="766.6" y2="367.8"/>
<line x1="764" y1="364.6" x2="766.6" y2="364.6"/>
<line x1="764" y1="361.5" x2="766.6" y2="361.5"/>
<line x1="764" y1="358.3" x2="766.6" y2="358.3"/>
<line x1="764" y1="477.2" x2="766.6" y2="477.2"/>
<line x1="764" y1="472.1" x2="769.4" y2="472.1"/>
<line x1="764" y1="466.9" x2="766.6" y2="466.9"/>
<line x1="764" y1="461.8" x2="769.4" y2="461.8"/>
<line x1="764" y1="456.7" x2="766.6" y2="456.7"/>
<line x1="764" y1="451.6" x2="769.4" y2="451.6"/>
<line x1="764" y1="446.4" x2="766.6" y2="446.4"/>
<line x1="764" y1="441.3" x2="769.4" y2="441.3"/>
<line x1="764" y1="436.2" x2="766.6" y2="436.2"/>
<line x1="764" y1="431.1" x2="769.4" y2="431.1"/>
<line x1="764" y1="425.9" x2="766.6" y2="425.9"/>
<line x1="764" y1="420.8" x2="769.4" y2="420.8"/>
<line x1="764" y1="415.7" x2="766.6" y2="415.7"/>
<line x1="764" y1="410.6" x2="769.4" y2="410.6"/>
</g>
<g text-anchor="end">
<text transform="translate(796.9 10.8) scale(1.0 1)" text-anchor="end" letter-spacing="0.15">2.15</text>
<text transform="translate(796.9 29.5) scale(1.0 1)" text-anchor="end" letter-spacing="0.15">2.10</text>
<text transform="translate(796.9 48.2) scale(1.0 1)" text-anchor="end" letter-spacing="0.15">2.05</text>
<text transform="translate(796.9 66.8) scale(1.0 1)" text-anchor="end" letter-spacing="0.15">2.00</text>
<text transform="translate(796.9 85.5) scale(1.0 1)" text-anchor="end" letter-spacing="0.15">1.95</text>
<text transform="translate(796.9 104.2) scale(1.0 1)" text-anchor="end" letter-spacing="0.15">1.90</text>
<text transform="translate(796.9 122.9) scale(1.0 1)" text-anchor="end" letter-spacing="0.15">1.85</text>
<text transform="translate(796.9 141.6) scale(1.0 1)" text-anchor="end" letter-spacing="0.15">1.80</text>
<text transform="translate(796.9 160.2) scale(1.0 1)" text-anchor="end" letter-spacing="0.15">1.75</text>
<text transform="translate(796.9 178.9) scale(1.0 1)" text-anchor="end" letter-spacing="0.15">1.70</text>
<text transform="translate(796.9 197.6) scale(1.0 1)" text-anchor="end" letter-spacing="0.15">1.65</text>
<text transform="translate(796.9 216.3) scale(1.0 1)" text-anchor="end" letter-spacing="0.15">1.60</text>
<text transform="translate(796.9 235.0) scale(1.0 1)" text-anchor="end" letter-spacing="0.15">1.55</text>
<text transform="translate(796.9 253.6) scale(1.0 1)" text-anchor="end" letter-spacing="0.15">1.50</text>
<text transform="translate(796.9 272.3) scale(1.0 1)" text-anchor="end" letter-spacing="0.15">1.45</text>
<text transform="translate(796.9 291.0) scale(1.0 1)" text-anchor="end" letter-spacing="0.15">1.40</text>
<text transform="translate(796.9 345.2) scale(1.0 1)" text-anchor="end" letter-spacing="0.15">50</text>
<text transform="translate(796.9 374.5) scale(1.0 1)" text-anchor="end" letter-spacing="0.15">0.05</text>
<text transform="translate(796.9 390.4) scale(1.0 1)" text-anchor="end" letter-spacing="0.15">0.00</text>
<text transform="translate(796.4 475.1) scale(1.0 1)" text-anchor="end" letter-spacing="0.25">10000</text>
<text transform="translate(796.4 464.8) scale(1.0 1)" text-anchor="end" letter-spacing="0.25">20000</text>
<text transform="translate(796.4 454.6) scale(1.0 1)" text-anchor="end" letter-spacing="0.25">30000</text>
<text transform="translate(796.4 444.3) scale(1.0 1)" text-anchor="end" letter-spacing="0.25">40000</text>
<text transform="translate(796.4 434.1) scale(1.0 1)" text-anchor="end" letter-spacing="0.25">50000</text>
<text transform="translate(796.4 423.8) scale(1.0 1)" text-anchor="end" letter-spacing="0.25">60000</text>
</g>
<rect x="765" y="471.8" width="20.5" height="8.6" fill="#fff"/>
<path d="M765 471.8H785.5V480.4" fill="none" stroke="#222" stroke-width="0.8"/>
<text transform="translate(766.2 479.0) scale(1.0 1)" textLength="18.00" lengthAdjust="spacing" font-size="6px">x1000</text>
</svg>
</body></html>
